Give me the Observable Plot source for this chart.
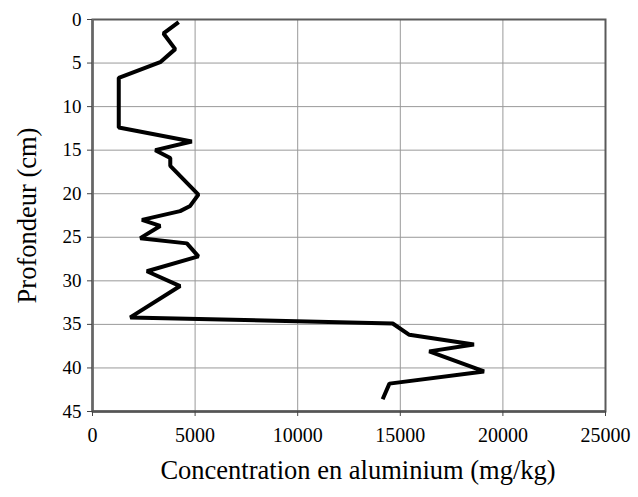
<!DOCTYPE html>
<html>
<head>
<meta charset="utf-8">
<script src="https://cdn.jsdelivr.net/npm/d3@7"></script>
<script src="https://cdn.jsdelivr.net/npm/@observablehq/plot@0.6"></script>
<style>
  body { margin: 0; background: #fff; }
</style>
</head>
<body>
<div id="chart"></div>
<script>
const depth = [0.3, 1.6, 3.4, 4.9, 6.7, 12.4, 14, 15, 15.9, 16.8, 20.1, 21.4, 22, 23, 23.7, 25.1, 25.7, 27.2, 28.9, 30.6, 34.2, 34.9, 36.2, 37.3, 38.1, 40.4, 41.8, 43.6];
const aluminium = [4200, 3460, 4030, 3300, 1280, 1280, 4840, 3060, 3790, 3790, 5160, 4760, 4270, 2410, 3300, 2330, 4600, 5160, 2650, 4270, 1840, 14630, 15440, 18590, 16410, 19080, 14470, 14140];
const xTicks = [0, 5000, 10000, 15000, 20000, 25000];
const yTicks = [0, 5, 10, 15, 20, 25, 30, 35, 40, 45];
const xLabel = "Concentration en aluminium (mg/kg)";
const yLabel = "Profondeur (cm)";

const data = depth.map((d, i) => ({depth: d, al: aluminium[i]}));
const serif = "Liberation Serif, serif";

const chart = Plot.plot({
  width: 638,
  height: 497,
  marginLeft: 92,
  marginRight: 33,
  marginTop: 19,
  marginBottom: 86,
  style: {fontFamily: serif, fontSize: "18px", color: "#000", background: "#fff"},
  x: {domain: [0, 25000], ticks: xTicks, tickFormat: d => String(d), label: null},
  y: {domain: [0, 45], reverse: true, ticks: yTicks, label: null},
  marks: [
    Plot.gridX(xTicks, {stroke: "#999", strokeOpacity: 1, strokeWidth: 1}),
    Plot.gridY(yTicks, {stroke: "#999", strokeOpacity: 1, strokeWidth: 1}),
    Plot.frame({stroke: "#5a5a5a", strokeWidth: 2}),
    Plot.ruleX([0], {stroke: "#666", strokeWidth: 2.5}),
    Plot.ruleY([45], {stroke: "#555", strokeWidth: 2.5}),
    Plot.axisX({ticks: xTicks, tickFormat: d => String(d), tickSize: 5, tickPadding: 11, stroke: "#444", fill: "#000", fontSize: 20, fontFamily: serif, label: null}),
    Plot.axisY({ticks: yTicks, tickSize: 5, tickPadding: 6, stroke: "#444", fill: "#000", fontSize: 19, fontFamily: serif, label: null}),
    Plot.line(data, {x: "al", y: "depth", stroke: "#000", strokeWidth: 4, strokeLinejoin: "miter", strokeLinecap: "butt"}),
    Plot.text([xLabel], {frameAnchor: "bottom", dx: 9, dy: 67, fontSize: 26.5, fontFamily: serif, fill: "#000", text: d => d}),
    Plot.text([yLabel], {frameAnchor: "left", textAnchor: "middle", dx: -65, rotate: -90, fontSize: 26.5, fontFamily: serif, fill: "#000", text: d => d})
  ]
});
document.getElementById("chart").appendChild(chart);
</script>
</body>
</html>
